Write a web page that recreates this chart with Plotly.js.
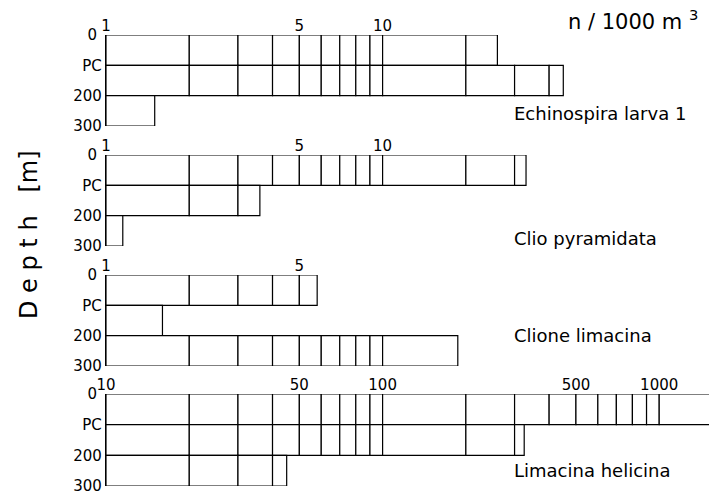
<!DOCTYPE html>
<html>
<head>
<meta charset="utf-8">
<script src="https://cdn.plot.ly/plotly-3.0.1.min.js"></script>
<style>
  html, body { margin: 0; padding: 0; background: #fff; }
  #chart { width: 709px; height: 493px; }
</style>
</head>
<body>
<div id="chart"></div>
<script>
// Abundance (n / 1000 m3) per depth layer: 0-PC, PC-200, 200-300
const depthLabels = ['0\u00a0', 'PC', '200', '300'];
const species = ['Echinospira larva 1', 'Clio pyramidata', 'Clione limacina', 'Limacina helicina'];
const echinospira = [26, 45, 1.5];
const clio = [33, 3.6, 1.15];
const clione = [5.8, 1.6, 18.7];
const limacina = [1800, 325, 45];
const axisStart = [1, 1, 1, 10];
const tickLabels = [
    ['1', '5', '10'],
    ['1', '5', '10'],
    ['1', '5'],
    ['10', '50', '100', '500', '1000']
];

const allValues = [echinospira, clio, clione, limacina];
const decades = 2.18;

// Edges of the log grid boxes (1,2,3..10,20,30..) from start up to value
function gridEdges(start, value) {
    const out = [start];
    let dec = start, m = 1;
    while (true) {
        m++;
        if (m > 10) { dec *= 10; m = 2; }
        const g = m * dec;
        if (g >= value) { out.push(value); break; }
        out.push(g);
    }
    return out;
}

// Panel vertical positions in px (top of "0", bottom "300")
const panelPx = [[35, 126], [155, 246], [275, 366], [394, 486]];
const H = 493, L = 106, PW = 603;

const traces = [];
const layout = {
    width: 709,
    height: 493,
    margin: { l: L, r: 0, t: 0, b: 0 },
    paper_bgcolor: '#fff',
    plot_bgcolor: 'rgba(0,0,0,0)',
    showlegend: false,
    barmode: 'overlay',
    font: { family: 'DejaVu Sans, sans-serif', color: '#000', size: 15 },
    annotations: []
};

allValues.forEach((vals, p) => {
    const start = axisStart[p];
    const base = [], len = [], ys = [];
    vals.forEach((v, row) => {
        const e = gridEdges(start, v);
        for (let i = 0; i < e.length - 1; i++) {
            base.push(e[i]);
            len.push(e[i + 1] - e[i]);
            ys.push(row + 0.5);
        }
    });
    const sfx = p === 0 ? '' : String(p + 1);
    traces.push({
        type: 'bar',
        orientation: 'h',
        x: len,
        base: base,
        y: ys,
        width: 1,
        xaxis: 'x' + sfx,
        yaxis: 'y' + sfx,
        marker: { color: '#fff', line: { color: '#000', width: 1.2 } },
        hoverinfo: 'skip'
    });

    const tv = tickLabels[p].map(Number);
    layout['xaxis' + sfx] = {
        type: 'log',
        range: [Math.log10(start), Math.log10(start) + decades],
        domain: [0, 1],
        anchor: 'y' + sfx,
        side: 'top',
        tickvals: tv,
        ticktext: tickLabels[p],
        ticks: '',
        showgrid: false,
        zeroline: false,
        showline: false,
        tickfont: { size: 15 },
        ticklabeloverflow: 'allow',
        fixedrange: true
    };
    layout['yaxis' + sfx] = {
        range: [3, 0],
        domain: [1 - panelPx[p][1] / H, 1 - panelPx[p][0] / H],
        anchor: 'x' + sfx,
        tickvals: [0, 1, 2, 3],
        ticktext: depthLabels,
        ticks: '',
        showgrid: false,
        zeroline: false,
        showline: true,
        linecolor: '#000',
        linewidth: 1.2,
        tickfont: { size: 15 },
        ticklabeloverflow: 'allow',
        fixedrange: true
    };
});

// species names
const labelY = [113, 239, 335, 470];
species.forEach((s, i) => {
    layout.annotations.push({
        xref: 'paper', yref: 'paper',
        x: (512 - L) / PW, y: 1 - labelY[i] / H,
        xanchor: 'left', yanchor: 'middle',
        text: s, showarrow: false,
        font: { size: 18 }
    });
});

// unit
layout.annotations.push({
    xref: 'paper', yref: 'paper',
    x: (566 - L) / PW, y: 1 - 20 / H,
    xanchor: 'left', yanchor: 'middle',
    text: 'n / 1000 m <sup>3</sup>', showarrow: false,
    font: { size: 21 }
});

// axis title
layout.annotations.push({
    xref: 'paper', yref: 'paper',
    x: (29 - L) / PW, y: 1 - 235 / H,
    xanchor: 'center', yanchor: 'middle',
    textangle: -90,
    text: 'D e p t h&nbsp;&nbsp;&nbsp;[m]', showarrow: false,
    font: { size: 24 }
});

Plotly.newPlot('chart', traces, layout, { staticPlot: true, displayModeBar: false });
</script>
</body>
</html>
